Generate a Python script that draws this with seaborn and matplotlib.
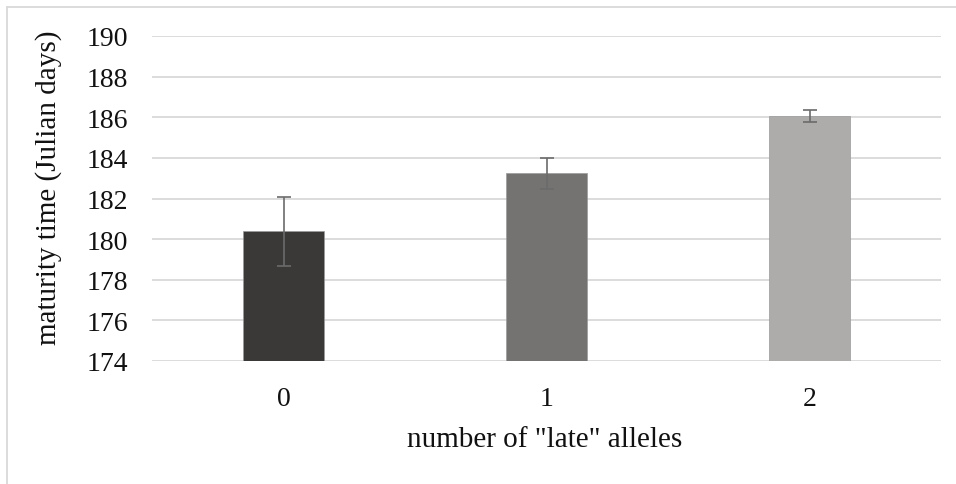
import numpy as np
import pandas as pd
import matplotlib
matplotlib.use("Agg")
import matplotlib.pyplot as plt
from matplotlib.lines import Line2D
import seaborn as sns

# data
alleles = ["0", "1", "2"]
maturity_mean = [180.38, 183.24, 186.05]
maturity_err = [1.7, 0.76, 0.3]
bar_colors = ["#3b3838", "#767171", "#aeaaaa"]
y_ticks = [174, 176, 178, 180, 182, 184, 186, 188, 190]

df = pd.DataFrame({"alleles": alleles, "maturity": maturity_mean})

sns.set_style("white")
plt.rcParams["font.family"] = ["Liberation Serif", "DejaVu Serif"]

fig = plt.figure(figsize=(9.56, 4.85), dpi=100)
ax = fig.add_axes([152 / 956, 1 - 362 / 485, (941 - 152) / 956, (362 - 37) / 485])

sns.barplot(data=df, x="alleles", y="maturity", hue="alleles", palette=bar_colors,
            legend=False, width=0.31, errorbar=None, ax=ax, zorder=3,
            edgecolor="#9a9a9a", linewidth=0.5)

ax.errorbar(x=np.arange(len(alleles)), y=maturity_mean, yerr=maturity_err,
            fmt="none", ecolor="#6b6b6b", elinewidth=1.2, capsize=5, capthick=1.2, zorder=4)

ax.set_ylim(174, 190)
ax.set_xlim(-0.5, 2.5)
ax.set_yticks(y_ticks)
ax.yaxis.grid(True, color="#d9d9d9", linewidth=1.3, zorder=0)
ax.set_axisbelow(True)
for side in ["top", "right", "left", "bottom"]:
    ax.spines[side].set_visible(False)
ax.tick_params(axis="y", length=0, pad=17, labelsize=20, labelcolor="#111111")
ax.tick_params(axis="x", length=0, pad=18, labelsize=20, labelcolor="#111111")

ax.set_ylabel("maturity time (Julian days)", fontsize=21, color="#111111")
ax.yaxis.label.set_va("center")
ax.yaxis.set_label_coords(-0.131, 0.535)
ax.set_xlabel('number of "late" alleles', fontsize=21, color="#111111")
ax.xaxis.label.set_va("center")
ax.xaxis.set_label_coords(0.497, -0.24)

# chart-area border (only left and top edges visible in the reference)
fig.add_artist(Line2D([7 / 956, 7 / 956], [0, 1 - 8 / 485], transform=fig.transFigure,
                      color="#d9d9d9", linewidth=1.3))
fig.add_artist(Line2D([7 / 956, 1], [1 - 8 / 485, 1 - 8 / 485], transform=fig.transFigure,
                      color="#d9d9d9", linewidth=1.3))

fig.savefig("out.png", dpi=100)
